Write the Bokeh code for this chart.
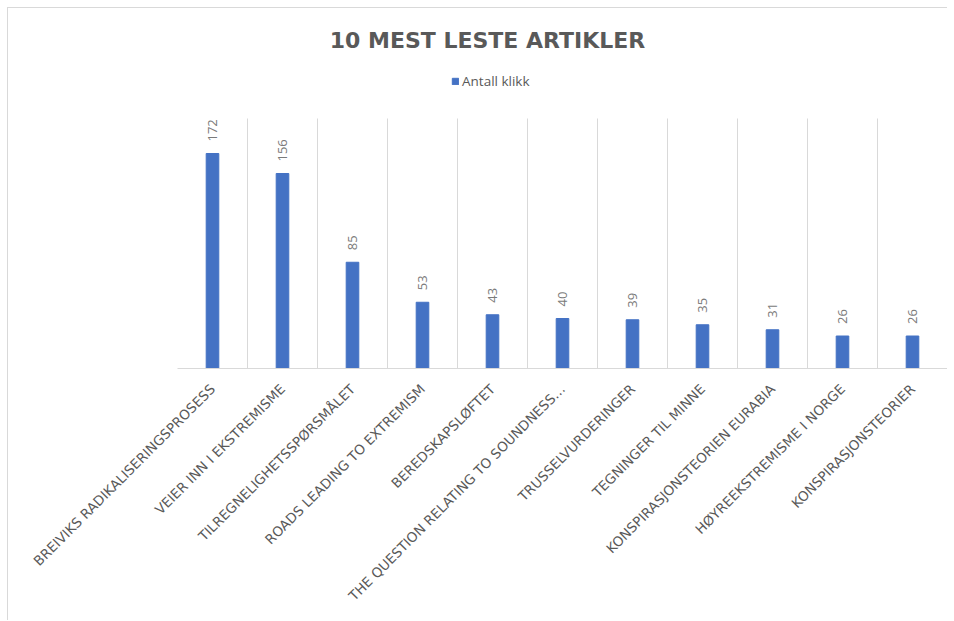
import math
from bokeh.plotting import figure
from bokeh.models import (FactorRange, Range1d, Legend, LegendItem, Label,
                          ColumnDataSource)
from bokeh.core.properties import value
from bokeh.embed import file_html
from bokeh.resources import INLINE

title_text = "10 MEST LESTE ARTIKLER"
series_name = "Antall klikk"
categories = [
    "BREIVIKS RADIKALISERINGSPROSESS",
    "VEIER INN I EKSTREMISME",
    "TILREGNELIGHETSSPØRSMÅLET",
    "ROADS LEADING TO EXTREMISM",
    "BEREDSKAPSLØFTET",
    "THE QUESTION RELATING TO SOUNDNESS…",
    "TRUSSELVURDERINGER",
    "TEGNINGER TIL MINNE",
    "KONSPIRASJONSTEORIEN EURABIA",
    "HØYREEKSTREMISME I NORGE",
    "KONSPIRASJONSTEORIER",
]
clicks = [172, 156, 85, 53, 43, 40, 39, 35, 31, 26, 26]
y_axis_max = 200          # top of the plot area (value axis maximum)

BLUE = "#4472C4"
GRAY = "#595959"
GRID = "#d9d9d9"
FONT = "Open Sans"

src = ColumnDataSource(dict(cat=categories, val=clicks, lab=[str(v) for v in clicks]))

# frame spans the full height above the baseline so that title and legend sit inside it
p = figure(x_range=FactorRange(*categories), y_range=Range1d(0, 288),
           width=940, height=613, output_backend="svg", toolbar_location=None,
           title=None,
           min_border_left=169, min_border_right=1, min_border_top=0,
           min_border_bottom=253)
p.outline_line_color = None
p.xgrid.visible = False
p.ygrid.visible = False
p.yaxis.visible = False

# vertical category separators (between categories and at right edge)
sep = list(range(1, len(categories) + 1))
p.segment(x0=sep, y0=[0] * len(sep), x1=sep, y1=[y_axis_max] * len(sep),
          line_color=GRID, line_width=1, level="underlay")

bars = p.vbar(x="cat", top="val", width=0.18, source=src, color=BLUE)

p.text(x="cat", y="val", text="lab", source=src, angle=math.pi / 2,
       text_align="left", text_baseline="middle", y_offset=-12,
       text_font=value(FONT), text_font_size="13px", text_color="#7a7a7a")

ax = p.xaxis[0]
ax.axis_line_color = GRID
ax.major_tick_line_color = None
ax.minor_tick_line_color = None
ax.major_label_orientation = math.pi / 4
ax.major_label_text_font = "DejaVu Sans"
ax.major_label_text_font_size = "13.5px"
ax.major_label_text_color = GRAY
ax.major_label_standoff = 12

legend = Legend(items=[LegendItem(label=series_name, renderers=[bars])],
                location=(274, 278), orientation="horizontal",
                glyph_width=8, glyph_height=8, label_standoff=3, padding=0,
                spacing=0, margin=0, border_line_color=None,
                background_fill_alpha=0,
                label_text_font=FONT, label_text_font_size="13.5px",
                label_text_color=GRAY)
p.add_layout(legend)

p.add_layout(Label(x=310, y=328, x_units="screen", y_units="screen",
                   text=title_text, text_align="center", text_baseline="middle",
                   text_font="DejaVu Sans", text_font_size="22px",
                   text_font_style="bold", text_color=GRAY))

p.styles = {"border-left": "1px solid #d9d9d9", "border-top": "1px solid #d9d9d9",
            "margin-left": "7px", "margin-top": "7px"}

open("out.html", "w").write(file_html(p, INLINE))
